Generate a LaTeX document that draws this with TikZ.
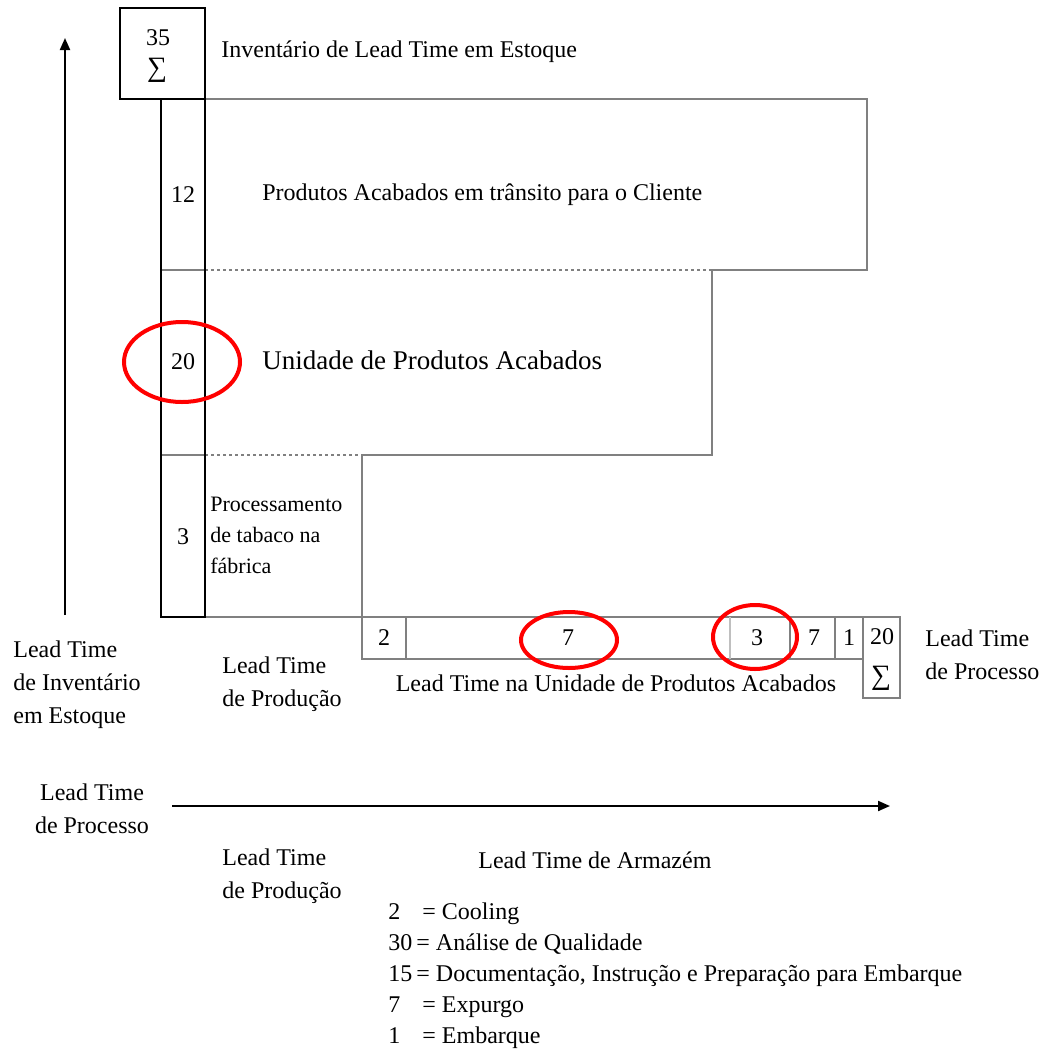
\documentclass[tikz,border=0pt]{standalone}
\usepackage{fontspec}
\setmainfont{Liberation Serif}
\usetikzlibrary{arrows.meta}

\tikzset{
  lbl/.style={font=\fontsize{12}{16.5}\selectfont, inner sep=0pt},
  lblleft/.style={lbl, anchor=west, align=left},
  sumlbl/.style={font=\fontsize{14}{16}\selectfont, inner sep=0pt},
  colline/.style={draw=black, line width=1pt},
  stepline/.style={draw=gray, line width=1pt},
  dotline/.style={draw=gray, line width=0.8pt, dash pattern=on 1.5pt off 1.5pt},
  ring/.style={draw=red, line width=2pt},
  axis/.style={draw=black, line width=1pt, -{Triangle[length=6pt,width=5pt]}},
}

\begin{document}
\begin{tikzpicture}[x=0.5pt, y=-0.5pt]
	\useasboundingbox (0,0) rectangle (1043,1055);

	% outline of the lead time steps
	\coordinate (s_0) at (205,99);
	\coordinate (s_1) at (867,99);
	\coordinate (s_2) at (867,270);
	\coordinate (s_3) at (712,270);
	\coordinate (s_4) at (712,455);
	\coordinate (s_5) at (362,455);
	\coordinate (s_6) at (362,617);

	\draw [stepline] (s_0)--(s_1)--(s_2)--(s_3)--(s_4)--(s_5)--(s_6);
	\draw [dotline] (205,270)--(s_3);
	\draw [dotline] (205,455)--(s_5);
	\draw [stepline] (161,617)--(900,617);

	% process bar
	\draw [stepline] (s_6)--(362,659)--(863,659);
	\draw [stepline] (863,617) rectangle (900,698);
	\draw [stepline] (406,617)--(406,659);
	\draw [draw=gray!50, line width=0.8pt] (730,617)--(730,659);
	\draw [stepline] (790,617)--(790,659);
	\draw [stepline] (835,617)--(835,659);

	% inventory column
	\draw [stepline] (161,270)--(205,270);
	\draw [stepline] (161,455)--(205,455);
	\draw [colline] (161,99) rectangle (205,617);
	\draw [colline] (120,8) rectangle (205,99);

	% axes
	\draw [axis] (65,615)--(65,38);
	\draw [axis] (172,806)--(890,806);

	\node [lbl] (top_n) at (158,38) {35};
	\node [sumlbl] (top_s) at (157,70) {∑};
	\node [lblleft] (inv_title) at (221,52) {Inventário de Lead Time em Estoque};

	\node [lbl] (col_a) at (183,195) {12};
	\node [lblleft] (transit) at (262,195) {Produtos Acabados em trânsito para o Cliente};
	\node [lbl] (col_b) at (183,362) {20};
	\node [lblleft, font=\fontsize{13.5}{16}\selectfont] (unit) at (262,360) {Unidade de Produtos Acabados};
	\node [lbl] (col_c) at (183,537) {3};
	\node [lblleft, font=\fontsize{11}{15.5}\selectfont] (fabric) at (210,535) {Processamento\\de tabaco na\\fábrica};

	\node [lbl] (bar_a) at (384,638) {2};
	\node [lbl] (bar_b) at (568,638) {7};
	\node [lbl] (bar_c) at (757,638) {3};
	\node [lbl] (bar_d) at (814,638) {7};
	\node [lbl] (bar_e) at (849,638) {1};
	\node [lbl] (bar_n) at (882,637) {20};
	\node [sumlbl] (bar_s) at (881,678) {∑};
	\node [lbl] (bar_cap) at (616,683) {Lead Time na Unidade de Produtos Acabados};
	\node [lblleft] (proc_r) at (925,655) {Lead Time\\de Processo};

	\node [lblleft] (inv_l) at (13,685) {Lead Time\\de Inventário\\em Estoque};
	\node [lblleft] (prod_a) at (222,684) {Lead Time\\de Produção};
	\node [lbl, align=center] (proc_l) at (92,809) {Lead Time\\de Processo};
	\node [lblleft] (prod_b) at (222,876) {Lead Time\\de Produção};
	\node [lblleft] (store) at (478,860) {Lead Time de Armazém};

	\node [lblleft, font=\fontsize{12}{15.5}\selectfont] (legend) at (388,975) {%
		\begin{tabular}{@{}l@{\,}l@{}}
			2 & \hspace{3pt}= Cooling\\
			30 & = Análise de Qualidade\\
			15 & = Documentação, Instrução e Preparação para Embarque\\
			7 & \hspace{3pt}= Expurgo\\
			1 & \hspace{3pt}= Embarque
		\end{tabular}};

	% highlights
	\draw [ring] (182,362) ellipse [x radius=58, y radius=40];
	\draw [ring] (569,640) ellipse [x radius=48, y radius=28];
	\draw [ring] (755,637) ellipse [x radius=42, y radius=32];

\end{tikzpicture}
\end{document}
